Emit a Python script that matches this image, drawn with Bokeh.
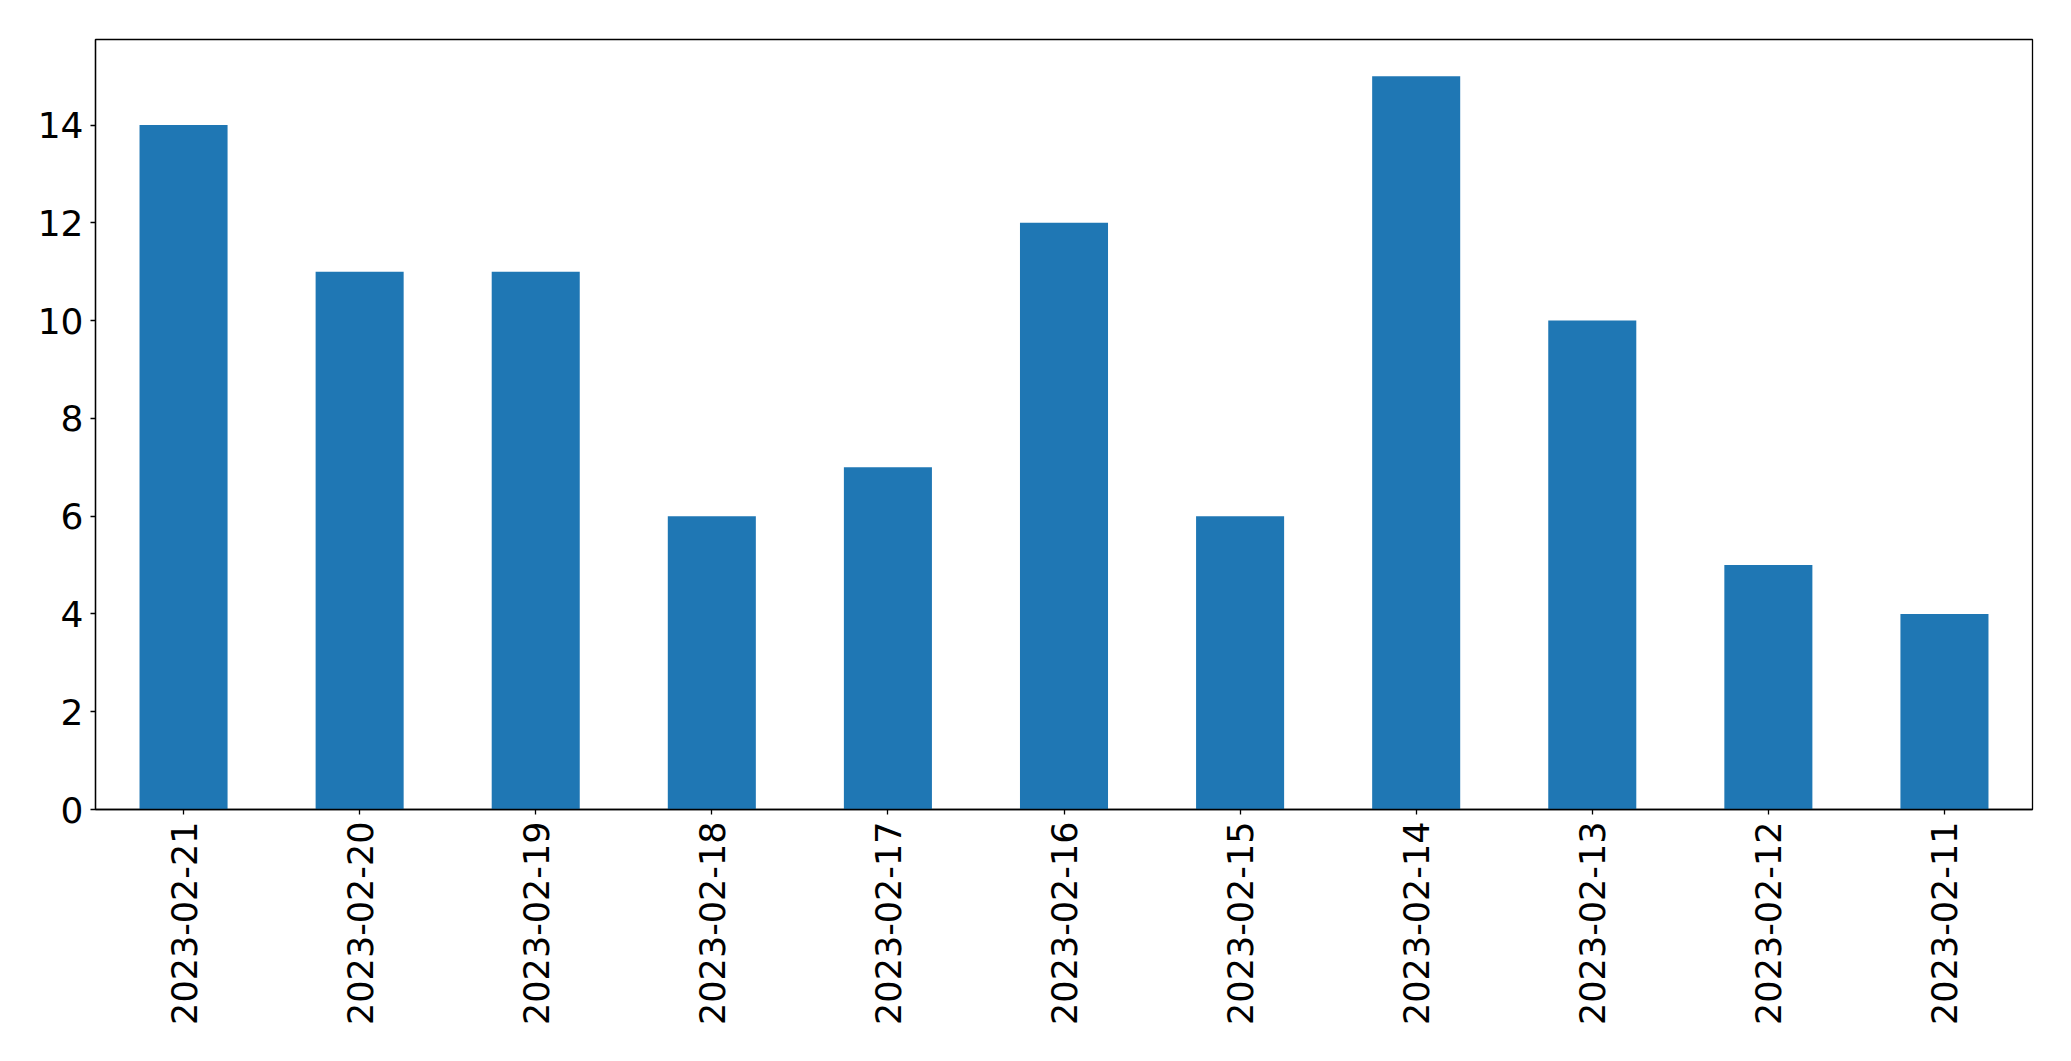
from bokeh.plotting import figure
from bokeh.models import FactorRange, Range1d, FixedTicker, ColumnDataSource
from bokeh.embed import file_html
from bokeh.resources import INLINE
import math

dates = ["2023-02-21", "2023-02-20", "2023-02-19", "2023-02-18", "2023-02-17",
         "2023-02-16", "2023-02-15", "2023-02-14", "2023-02-13", "2023-02-12",
         "2023-02-11"]
counts = [14, 11, 11, 6, 7, 12, 6, 15, 10, 5, 4]
y_ticks = [0, 2, 4, 6, 8, 10, 12, 14]

src = ColumnDataSource(data=dict(date=dates, count=counts))

p = figure(
    width=2063, height=1053,
    x_range=FactorRange(factors=dates),
    y_range=Range1d(0, max(counts) * 1.05),
    output_backend="svg", toolbar_location=None,
    min_border_left=95, min_border_right=31, min_border_top=39, min_border_bottom=244,
)
p.vbar(x="date", top="count", width=0.5, source=src, color="#1f77b4", line_color=None)

p.xgrid.visible = False
p.ygrid.visible = False
p.outline_line_color = "black"
p.outline_line_alpha = 1.0
p.outline_line_width = 1.3
p.background_fill_color = "white"
p.border_fill_color = "white"

for ax in (p.xaxis[0], p.yaxis[0]):
    ax.axis_line_color = "black"
    ax.axis_line_width = 1.3
    ax.major_tick_line_color = "black"
    ax.major_tick_line_width = 1.3
    ax.major_tick_in = 0
    ax.major_tick_out = 5
    ax.minor_tick_line_color = None
    ax.major_label_text_font = "DejaVu Sans"
    ax.major_label_text_font_size = "35px"
    ax.major_label_text_color = "black"

p.yaxis[0].ticker = FixedTicker(ticks=y_ticks)
p.yaxis[0].major_label_standoff = 7
p.yaxis[0].major_label_text_font_size = "36px"
p.xaxis[0].major_label_orientation = math.pi / 2
p.xaxis[0].major_label_standoff = 7
p.xaxis[0].group_text_font_size = "0px"

open("out.html", "w").write(file_html(p, INLINE))
